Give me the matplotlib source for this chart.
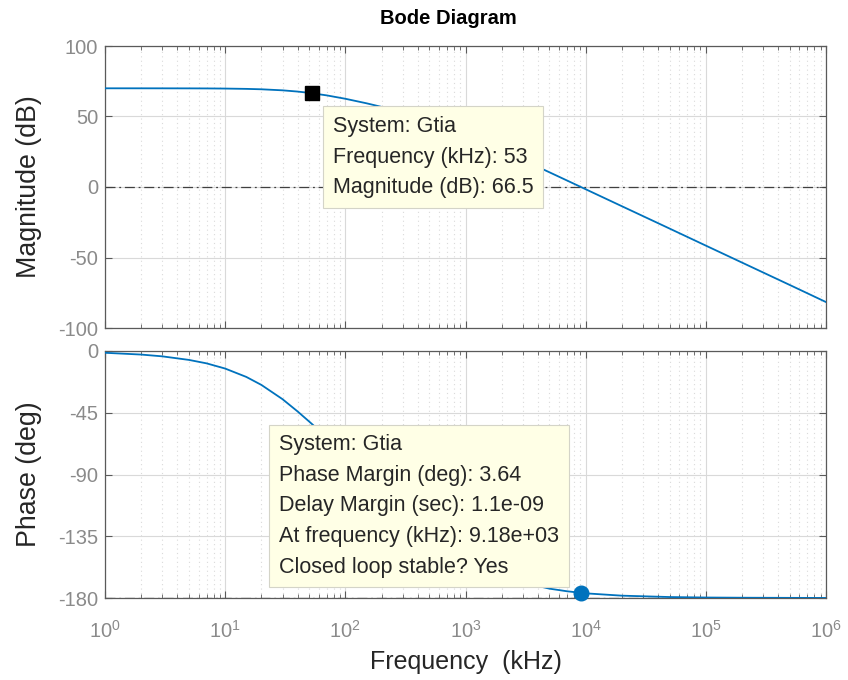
import matplotlib.pyplot as plt
from matplotlib.ticker import FixedLocator, LogLocator, NullFormatter, LogFormatterSciNotation

plt.rcParams['font.family'] = ['Liberation Sans', 'DejaVu Sans']
plt.rcParams['axes.unicode_minus'] = False
plt.rcParams['mathtext.fontset'] = 'custom'
plt.rcParams['mathtext.rm'] = 'Liberation Sans'
plt.rcParams['mathtext.it'] = 'Liberation Sans:italic'
plt.rcParams['mathtext.bf'] = 'Liberation Sans:bold'

# frequency points (kHz)
freq_khz = [1, 2, 3, 5, 7, 10, 15, 20, 30, 40, 50, 70, 100, 150, 200, 300, 500,
            700, 1000, 1500, 2000, 3000, 5000, 7000, 10000, 20000, 50000,
            1e5, 2e5, 5e5, 1e6]
mag_db = [70.0, 69.99, 69.98, 69.95, 69.91, 69.81, 69.59, 69.30, 68.56, 67.69,
          66.77, 64.98, 62.58, 59.37, 56.82, 52.84, 46.99, 42.52, 37.28, 30.84,
          26.07, 19.20, 10.42, 4.60, -1.59, -13.62, -29.5, -41.57, -53.6,
          -69.5, -81.6]
phase_deg = [-1.3, -2.6, -3.9, -6.5, -9.0, -12.8, -18.9, -24.7, -35.1, -44.0,
             -51.4, -62.8, -74.7, -87.5, -96.5, -109.5, -126.8, -137.9, -148.4,
             -158.0, -163.3, -168.7, -173.2, -175.1, -176.6, -178.3, -179.3,
             -179.65, -179.8, -179.9, -179.96]
x_ticks = [1, 10, 100, 1e3, 1e4, 1e5, 1e6]

# data tips
tip_mag = (53, 66.5)
tip_pm = (9180, -176.36)
tip1_lines = ['System: Gtia', 'Frequency (kHz): 53', 'Magnitude (dB): 66.5']
tip2_lines = ['System: Gtia', 'Phase Margin (deg): 3.64',
              'Delay Margin (sec): 1.1e-09', 'At frequency (kHz): 9.18e+03',
              'Closed loop stable? Yes']

W, H = 848, 680
fig = plt.figure(figsize=(W / 100, H / 100), dpi=100)
fig.patch.set_facecolor('white')

ax1 = fig.add_axes([105 / W, 1 - 328 / H, 721 / W, 282 / H])
ax2 = fig.add_axes([105 / W, 1 - 598 / H, 721 / W, 247 / H])

line_c = '#0072BD'
tick_c = '#8a8a8a'
spine_c = '#5a5a5a'
label_c = '#262626'

ax1.plot(freq_khz, mag_db, color=line_c, lw=1.3, zorder=3)
ax2.plot(freq_khz, phase_deg, color=line_c, lw=1.3, zorder=3)

ax1.axhline(0, color='#404040', lw=0.9, ls=(0, (8, 3, 1.5, 3)), zorder=2)
ax2.axhline(-180, color='#404040', lw=0.9, ls=(0, (8, 3, 1.5, 3)), zorder=2)

for ax in (ax1, ax2):
    ax.set_xscale('log')
    ax.set_xlim(1, 1e6)
    ax.xaxis.set_major_locator(FixedLocator(x_ticks))
    ax.xaxis.set_major_formatter(LogFormatterSciNotation())
    ax.xaxis.set_minor_locator(LogLocator(base=10, subs=range(2, 10), numticks=20))
    ax.xaxis.set_minor_formatter(NullFormatter())
    ax.grid(True, which='major', color='#d9d9d9', lw=0.8)
    ax.grid(True, which='minor', axis='x', color='#dadada', lw=0.8, ls=(0, (1, 3)))
    ax.tick_params(which='both', direction='in', top=True, right=True,
                   colors=spine_c, labelcolor=tick_c, labelsize=14.5)
    ax.tick_params(which='major', length=5)
    ax.tick_params(which='minor', length=3)
    ax.tick_params(axis='y', pad=5)
    ax.tick_params(axis='x', pad=16)
    for s in ax.spines.values():
        s.set_color(spine_c)
        s.set_linewidth(0.9)
    ax.set_axisbelow(True)

ax1.set_ylim(-100, 100)
ax1.yaxis.set_major_locator(FixedLocator([-100, -50, 0, 50, 100]))
ax1.tick_params(labelbottom=False)
ax1.set_ylabel('Magnitude (dB)', fontsize=19.3, color=label_c)
ax1.yaxis.set_label_coords(-63 / 721, 0.5)

ax2.set_ylim(-180, 0)
ax2.yaxis.set_major_locator(FixedLocator([-180, -135, -90, -45, 0]))
ax2.set_ylabel('Phase (deg)', fontsize=19.3, color=label_c)
ax2.yaxis.set_label_coords(-63 / 721, 0.5)
ax2.set_xlabel('Frequency  (kHz)', fontsize=18, color=label_c, labelpad=6)

fig.text(448 / W, 1 - 18 / H, 'Bode Diagram', ha='center', va='center',
         fontsize=14.5, fontweight='bold', color='black')

# markers
ax1.plot([tip_mag[0]], [tip_mag[1]], marker='s', ms=10.5, color='black', zorder=5,
         clip_on=False)
ax2.plot([tip_pm[0]], [tip_pm[1]], marker='o', ms=10.5, color=line_c, zorder=5,
         clip_on=False)

box = dict(boxstyle='square,pad=0.45', fc='#ffffe6', ec='#d4d4c8', lw=0.8)
fig.text(333 / W, 1 - 157 / H, '\n'.join(tip1_lines), ha='left', va='center',
         fontsize=15.5, color=label_c, linespacing=1.6, bbox=box, zorder=6)
fig.text(279 / W, 1 - 506 / H, '\n'.join(tip2_lines), ha='left', va='center',
         fontsize=15.5, color=label_c, linespacing=1.6, bbox=box, zorder=6)

fig.savefig('out.png', dpi=100)
